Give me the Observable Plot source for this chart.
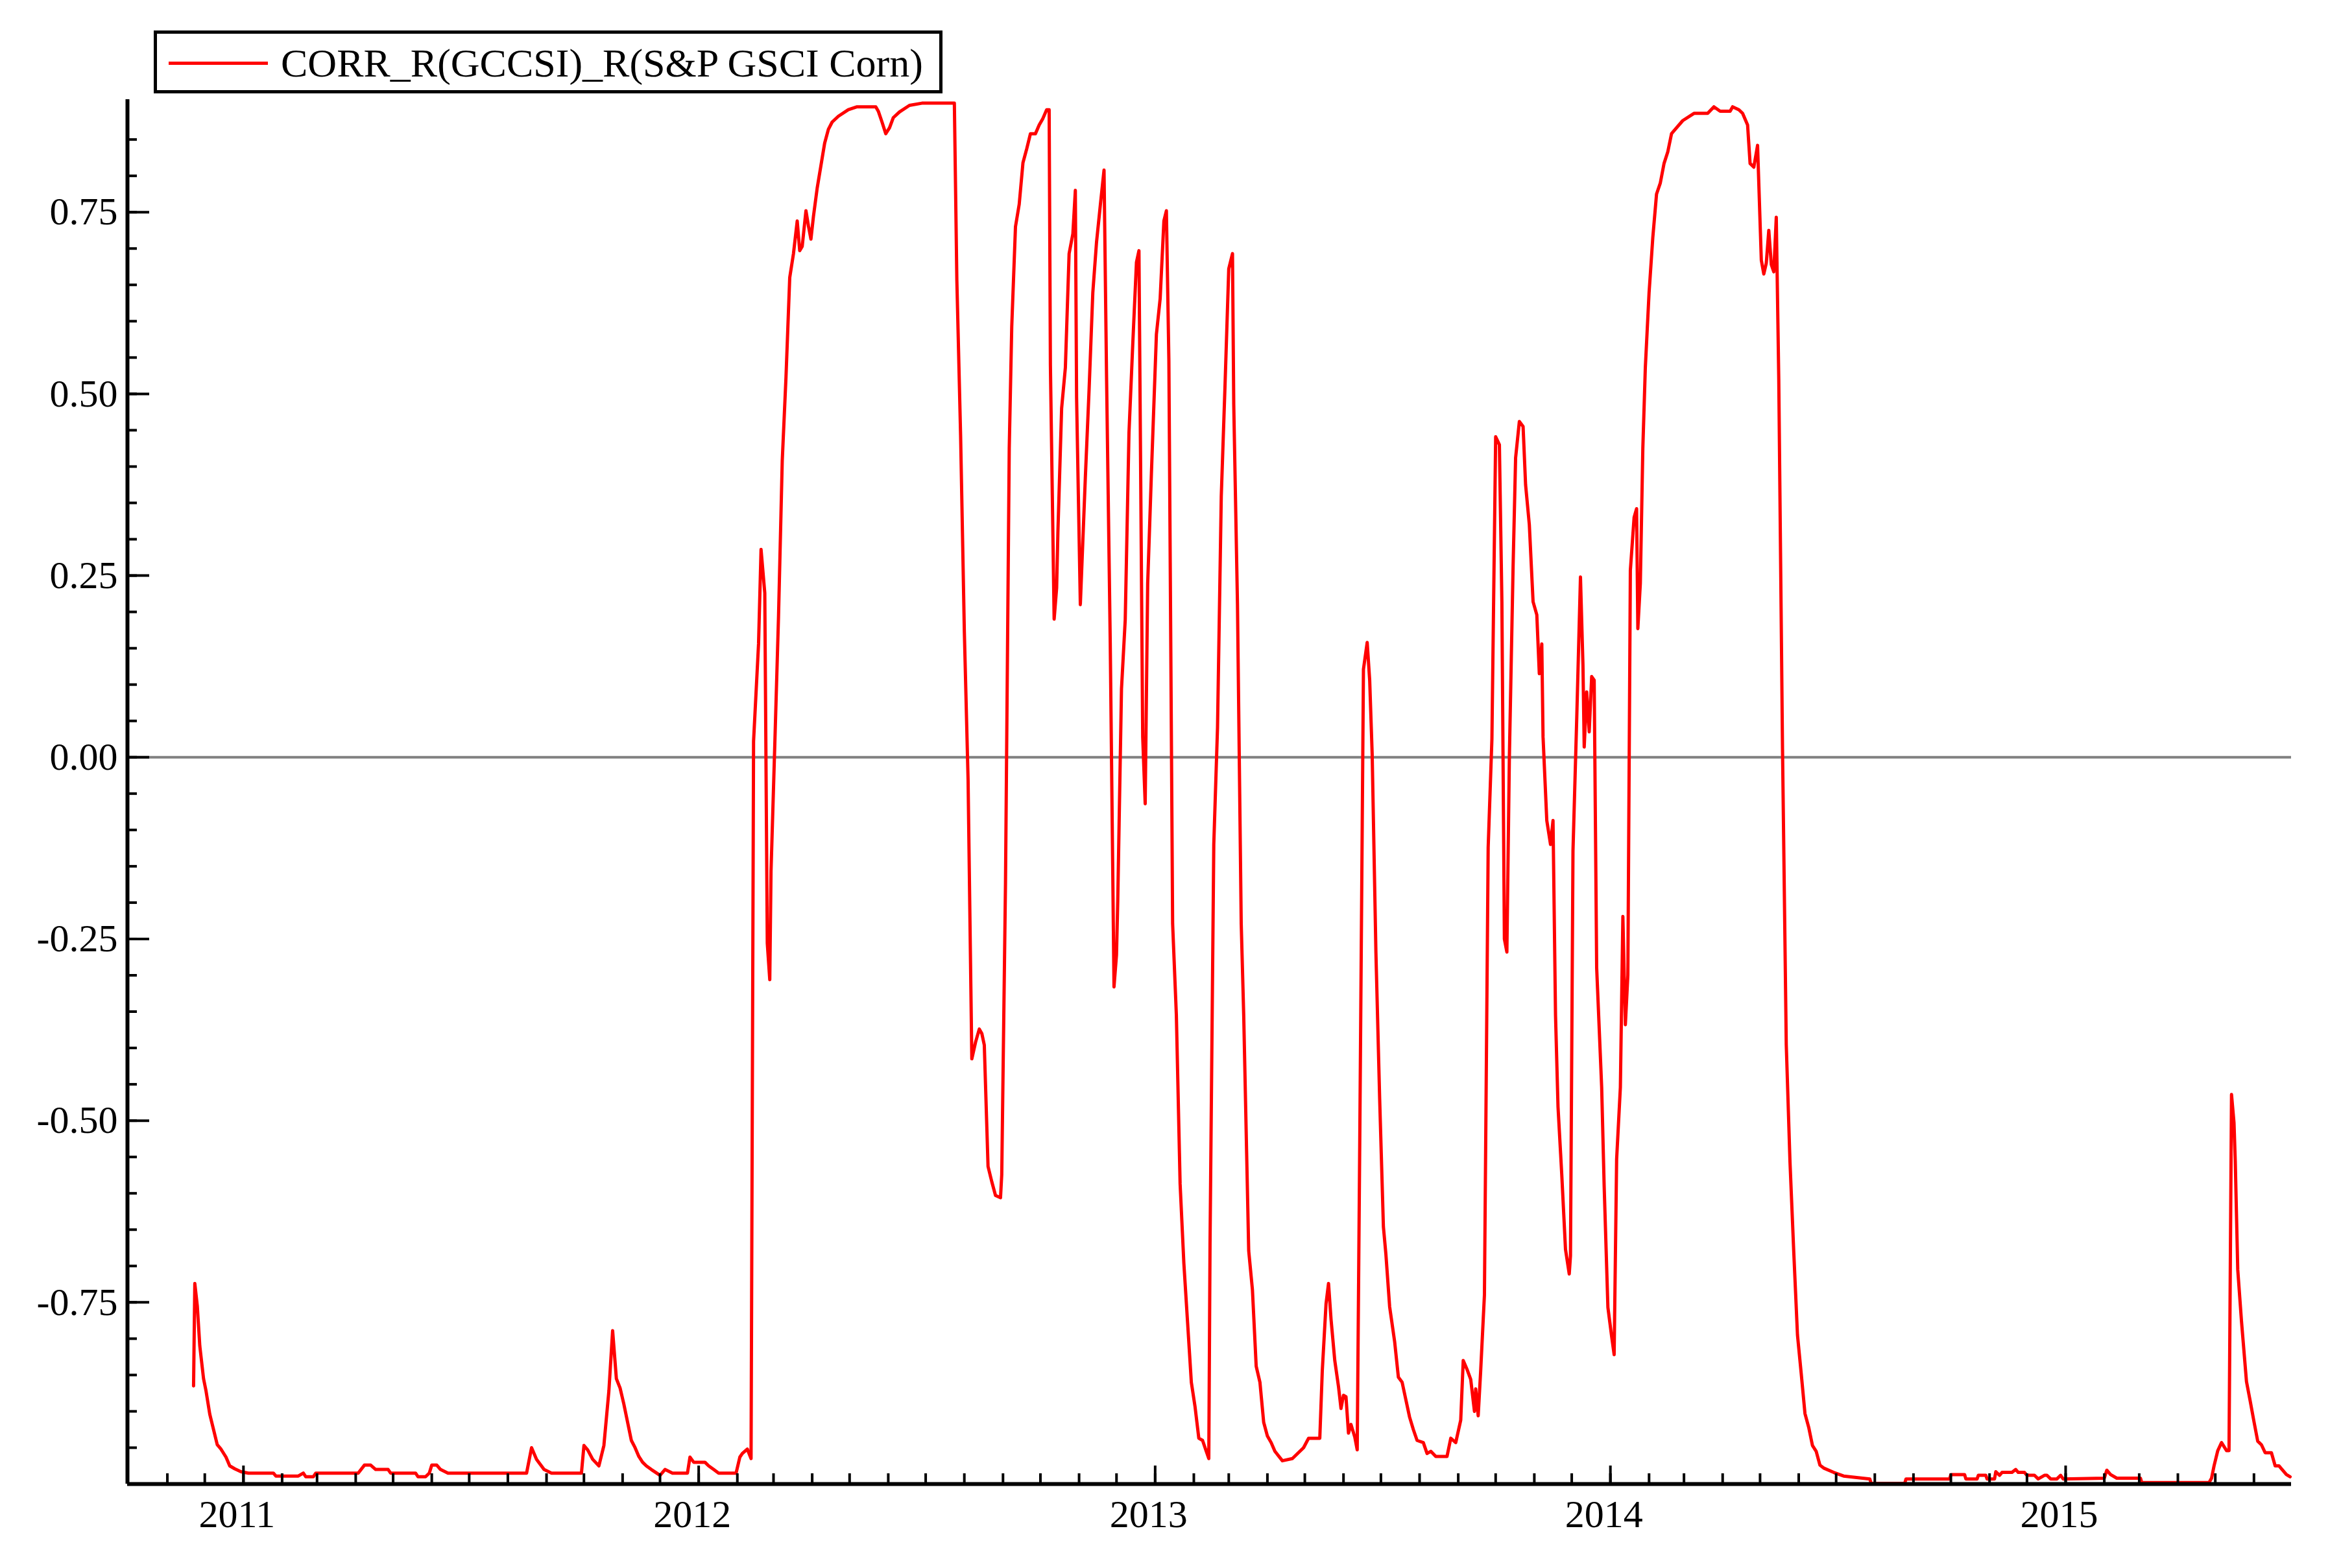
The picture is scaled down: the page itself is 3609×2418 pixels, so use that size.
<!DOCTYPE html>
<html><head><meta charset="utf-8">
<script src="https://cdn.jsdelivr.net/npm/d3@7"></script>
<script src="https://cdn.jsdelivr.net/npm/@observablehq/plot@0.6"></script>
<style>
html,body{margin:0;padding:0;background:#fff;}
#wrap{position:relative;width:3609px;height:2418px;overflow:hidden;background:#fff;}
#legend{position:absolute;left:237px;top:47px;width:1216px;height:97px;border:5px solid #000;box-sizing:border-box;display:flex;align-items:center;font-family:"Liberation Serif",serif;font-size:62px;color:#000;background:#fff;padding-top:3px;}
#legend .sw{display:inline-block;width:153px;height:5px;background:#ff0000;margin-left:18px;margin-right:20px;}
#chart{position:absolute;left:0;top:145px;}
</style></head><body>
<div id="wrap">
<div id="legend"><span class="sw"></span><span id="legendText"></span></div>
<div id="chart"></div>
</div>
<script>
const seriesName = "CORR_R(GCCSI)_R(S&P GSCI Corn)";
const yTickValues = [-0.75, -0.5, -0.25, 0, 0.25, 0.5, 0.75];
const yearLabels = ["2011", "2012", "2013", "2014", "2015"];
const xStart = "2010-09-30", xEnd = "2015-07-01";

const dates = [
"2010-11-22","2010-11-23","2010-11-25","2010-11-27","2010-11-30","2010-12-02","2010-12-05","2010-12-08","2010-12-11","2010-12-14",
"2010-12-18","2010-12-21","2010-12-25","2010-12-30","2011-01-05","2011-01-25","2011-01-27","2011-02-14","2011-02-18","2011-02-20",
"2011-02-26","2011-02-28","2011-04-03","2011-04-08","2011-04-13","2011-04-17","2011-04-27","2011-04-29","2011-05-19","2011-05-21",
"2011-05-27","2011-05-30","2011-06-01","2011-06-05","2011-06-08","2011-06-14","2011-08-16","2011-08-20","2011-08-24","2011-08-30",
"2011-09-05","2011-09-29","2011-10-01","2011-10-04","2011-10-08","2011-10-13","2011-10-17","2011-10-21","2011-10-24","2011-10-27",
"2011-10-30","2011-11-02","2011-11-05","2011-11-08","2011-11-11","2011-11-14","2011-11-17","2011-11-20","2011-11-24","2011-12-01",
"2011-12-05","2011-12-11","2011-12-23","2011-12-25","2011-12-28","2012-01-06","2012-01-09","2012-01-13","2012-01-17","2012-01-31",
"2012-02-03","2012-02-05","2012-02-09","2012-02-12","2012-02-14","2012-02-18","2012-02-20","2012-02-23","2012-02-25","2012-02-27",
"2012-02-28","2012-03-02","2012-03-05","2012-03-08","2012-03-11","2012-03-14","2012-03-17","2012-03-20","2012-03-22","2012-03-24",
"2012-03-27","2012-03-29","2012-03-31","2012-04-02","2012-04-05","2012-04-08","2012-04-11","2012-04-14","2012-04-17","2012-04-22",
"2012-04-30","2012-05-07","2012-05-22","2012-05-24","2012-05-27","2012-05-30","2012-06-02","2012-06-05","2012-06-10","2012-06-18",
"2012-06-28","2012-07-24","2012-07-26","2012-07-29","2012-08-01","2012-08-04","2012-08-07","2012-08-10","2012-08-13","2012-08-15",
"2012-08-17","2012-08-20","2012-08-23","2012-08-26","2012-08-30","2012-08-31","2012-09-03","2012-09-06","2012-09-08","2012-09-11",
"2012-09-14","2012-09-17","2012-09-20","2012-09-23","2012-09-27","2012-09-30","2012-10-03","2012-10-06","2012-10-08","2012-10-09",
"2012-10-12","2012-10-14","2012-10-15","2012-10-18","2012-10-21","2012-10-24","2012-10-27","2012-10-29","2012-10-30","2012-11-02",
"2012-11-06","2012-11-09","2012-11-12","2012-11-15","2012-11-18","2012-11-21","2012-11-23","2012-11-26","2012-11-29","2012-12-01",
"2012-12-02","2012-12-05","2012-12-08","2012-12-11","2012-12-14","2012-12-17","2012-12-19","2012-12-22","2012-12-24","2012-12-26",
"2012-12-29","2013-01-02","2013-01-05","2013-01-08","2013-01-10","2013-01-12","2013-01-15","2013-01-18","2013-01-21","2013-01-24",
"2013-01-27","2013-01-30","2013-02-02","2013-02-05","2013-02-08","2013-02-11","2013-02-13","2013-02-14","2013-02-17","2013-02-20",
"2013-02-23","2013-02-26","2013-03-01","2013-03-04","2013-03-05","2013-03-08","2013-03-11","2013-03-13","2013-03-17","2013-03-20",
"2013-03-23","2013-03-26","2013-03-29","2013-04-01","2013-04-04","2013-04-07","2013-04-13","2013-04-21","2013-04-30","2013-05-04",
"2013-05-13","2013-05-15","2013-05-18","2013-05-20","2013-05-22","2013-05-25","2013-05-28","2013-05-30","2013-06-01","2013-06-03",
"2013-06-05","2013-06-07","2013-06-10","2013-06-12","2013-06-14","2013-06-17","2013-06-20","2013-06-22","2013-06-24","2013-06-27",
"2013-06-30","2013-07-03","2013-07-05","2013-07-08","2013-07-12","2013-07-15","2013-07-18","2013-07-21","2013-07-24","2013-07-27",
"2013-07-30","2013-08-04","2013-08-07","2013-08-10","2013-08-14","2013-08-23","2013-08-26","2013-08-30","2013-09-03","2013-09-05",
"2013-09-08","2013-09-11","2013-09-14","2013-09-15","2013-09-17","2013-09-19","2013-09-22","2013-09-25","2013-09-28","2013-10-01",
"2013-10-04","2013-10-06","2013-10-08","2013-10-10","2013-10-12","2013-10-15","2013-10-17","2013-10-20","2013-10-23","2013-10-25",
"2013-10-28","2013-10-31","2013-11-03","2013-11-05","2013-11-07","2013-11-08","2013-11-11","2013-11-14","2013-11-16","2013-11-18",
"2013-11-20","2013-11-23","2013-11-26","2013-11-29","2013-11-30","2013-12-02","2013-12-05","2013-12-08","2013-12-10","2013-12-11",
"2013-12-13","2013-12-15","2013-12-17","2013-12-19","2013-12-21","2013-12-25","2013-12-27","2013-12-30","2014-01-02","2014-01-04",
"2014-01-06","2014-01-09","2014-01-11","2014-01-13","2014-01-15","2014-01-17","2014-01-20","2014-01-22","2014-01-23","2014-01-25",
"2014-01-27","2014-01-29","2014-02-01","2014-02-04","2014-02-07","2014-02-10","2014-02-13","2014-02-16","2014-02-19","2014-02-23",
"2014-02-28","2014-03-09","2014-03-20","2014-03-25","2014-03-30","2014-04-07","2014-04-09","2014-04-14","2014-04-17","2014-04-21",
"2014-04-23","2014-04-26","2014-04-29","2014-05-02","2014-05-04","2014-05-06","2014-05-08","2014-05-10","2014-05-12","2014-05-14",
"2014-05-16","2014-05-19","2014-05-22","2014-05-25","2014-05-28","2014-05-31","2014-06-03","2014-06-06","2014-06-09","2014-06-12",
"2014-06-15","2014-06-18","2014-06-21","2014-06-29","2014-07-07","2014-07-28","2014-07-29","2014-08-25","2014-08-26","2014-09-30",
"2014-10-01","2014-10-12","2014-10-13","2014-10-22","2014-10-23","2014-10-29","2014-10-30","2014-11-05","2014-11-06","2014-11-09",
"2014-11-11","2014-11-19","2014-11-22","2014-11-24","2014-11-29","2014-12-01","2014-12-07","2014-12-10","2014-12-15","2014-12-17",
"2014-12-20","2014-12-25","2014-12-28","2014-12-30","2015-02-01","2015-02-03","2015-02-06","2015-02-11","2015-03-02","2015-03-03",
"2015-04-26","2015-04-28","2015-04-30","2015-05-03","2015-05-06","2015-05-10","2015-05-12","2015-05-14","2015-05-16","2015-05-17",
"2015-05-19","2015-05-22","2015-05-26","2015-05-29","2015-06-01","2015-06-04","2015-06-07","2015-06-10","2015-06-15","2015-06-18",
"2015-06-21","2015-06-24","2015-06-27","2015-06-30"
];

const values = [
-0.865,-0.724,-0.755,-0.810,-0.855,-0.872,-0.904,-0.925,-0.946,-0.952,
-0.963,-0.975,-0.979,-0.983,-0.985,-0.985,-0.989,-0.989,-0.985,-0.990,
-0.990,-0.985,-0.985,-0.974,-0.974,-0.980,-0.980,-0.985,-0.985,-0.990,
-0.990,-0.985,-0.974,-0.974,-0.980,-0.985,-0.985,-0.950,-0.966,-0.980,
-0.985,-0.985,-0.947,-0.953,-0.966,-0.975,-0.947,-0.872,-0.789,-0.855,
-0.868,-0.890,-0.915,-0.940,-0.950,-0.962,-0.970,-0.975,-0.980,-0.988,
-0.980,-0.985,-0.985,-0.963,-0.970,-0.970,-0.975,-0.980,-0.985,-0.985,
-0.963,-0.958,-0.952,-0.965,0.022,0.156,0.286,0.226,-0.256,-0.306,
-0.157,0.016,0.193,0.408,0.523,0.660,0.693,0.738,0.697,0.703,
0.752,0.731,0.713,0.744,0.783,0.814,0.845,0.864,0.874,0.882,
0.891,0.895,0.895,0.889,0.874,0.858,0.866,0.880,0.888,0.897,
0.900,0.900,0.656,0.443,0.173,-0.031,-0.415,-0.392,-0.374,-0.380,
-0.396,-0.563,-0.584,-0.603,-0.606,-0.574,-0.173,0.425,0.592,0.730,
0.761,0.818,0.837,0.858,0.858,0.870,0.879,0.891,0.891,0.540,
0.190,0.233,0.309,0.480,0.536,0.693,0.720,0.780,0.495,0.210,
0.384,0.505,0.639,0.709,0.759,0.808,0.527,0.156,-0.316,-0.272,
-0.198,0.094,0.189,0.446,0.567,0.681,0.697,0.028,-0.064,0.239,
0.391,0.582,0.631,0.738,0.752,0.545,-0.229,-0.355,-0.587,-0.696,
-0.778,-0.860,-0.894,-0.937,-0.940,-0.955,-0.965,-0.668,-0.120,0.041,
0.359,0.511,0.672,0.693,0.486,0.210,-0.229,-0.355,-0.679,-0.733,
-0.838,-0.860,-0.915,-0.934,-0.943,-0.955,-0.968,-0.965,-0.950,-0.937,
-0.937,-0.844,-0.752,-0.724,-0.773,-0.830,-0.866,-0.896,-0.878,-0.880,
-0.930,-0.918,-0.935,-0.953,-0.537,0.121,0.158,0.106,0.004,-0.269,
-0.470,-0.646,-0.684,-0.756,-0.804,-0.853,-0.860,-0.884,-0.908,-0.925,
-0.940,-0.943,-0.958,-0.955,-0.962,-0.962,-0.937,-0.943,-0.912,-0.830,
-0.842,-0.856,-0.900,-0.869,-0.906,-0.844,-0.740,-0.124,0.025,0.441,
0.430,0.214,-0.250,-0.268,0.000,0.264,0.412,0.462,0.455,0.375,
0.320,0.214,0.196,0.115,0.156,0.028,-0.087,-0.120,-0.087,-0.355,
-0.481,-0.574,-0.677,-0.711,-0.686,-0.129,0.053,0.248,0.127,0.014,
0.090,0.035,0.111,0.106,-0.290,-0.454,-0.590,-0.757,-0.797,-0.822,
-0.553,-0.454,-0.219,-0.368,-0.300,0.257,0.330,0.342,0.177,0.239,
0.425,0.536,0.639,0.715,0.775,0.790,0.817,0.833,0.858,0.866,
0.876,0.886,0.886,0.895,0.889,0.889,0.895,0.891,0.886,0.870,
0.817,0.812,0.842,0.684,0.665,0.680,0.725,0.678,0.668,0.743,
0.520,0.012,-0.395,-0.557,-0.680,-0.795,-0.848,-0.903,-0.922,-0.947,
-0.955,-0.974,-0.978,-0.984,-0.989,-0.993,-0.999,-0.999,-0.993,-0.993,
-0.987,-0.987,-0.993,-0.993,-0.988,-0.988,-0.993,-0.993,-0.983,-0.988,
-0.984,-0.984,-0.980,-0.984,-0.984,-0.988,-0.988,-0.993,-0.988,-0.988,
-0.993,-0.993,-0.988,-0.993,-0.992,-0.981,-0.987,-0.992,-0.992,-0.998,
-0.998,-0.992,-0.975,-0.954,-0.943,-0.954,-0.954,-0.464,-0.503,-0.555,
-0.705,-0.776,-0.859,-0.886,-0.914,-0.941,-0.946,-0.957,-0.957,-0.975,
-0.975,-0.981,-0.987,-0.990
];

document.getElementById("legendText").textContent = seriesName;

const parse = d3.utcParse("%Y-%m-%d");
const data = dates.map((d, i) => ({date: parse(d), value: values[i]}));
const xDomain = [parse(xStart), parse(xEnd)];
const yearDates = yearLabels.map(y => parse(y + "-01-01"));
const monthDates = d3.utcMonth.range(parse("2010-11-01"), parse(xEnd));
const yMinor = d3.range(-95, 90, 5).map(v => v / 100);

const W = 3609, H = 2273;
const mL = 196, mR = 77, mT = 8, mB = 130;
const plotW = W - mL - mR, plotH = H - mT - mB;
const font = "'Liberation Serif', 'Times New Roman', serif";

const chart = Plot.plot({
  width: W, height: H,
  marginLeft: mL, marginRight: mR, marginTop: mT, marginBottom: mB,
  x: {type: "utc", domain: xDomain},
  y: {domain: [-1, 0.905]},
  style: {fontFamily: font, fontSize: "60px", color: "#000", background: "#fff"},
  marks: [
    Plot.ruleY([0], {stroke: "#808080", strokeWidth: 4}),
    Plot.lineY(data, {x: "date", y: "value", stroke: "#ff0000", strokeWidth: 5}),
    Plot.tickY(yMinor, {y: d => d, stroke: "#000", strokeWidth: 4, insetRight: plotW - 15}),
    Plot.tickY(yTickValues, {y: d => d, stroke: "#000", strokeWidth: 4, insetRight: plotW - 34}),
    Plot.tickX(monthDates, {x: d => d, stroke: "#000", strokeWidth: 4, insetTop: plotH - 16}),
    Plot.tickX(yearDates, {x: d => d, stroke: "#000", strokeWidth: 4, insetTop: plotH - 28}),
    Plot.ruleX([xDomain[0]], {stroke: "#000", strokeWidth: 6}),
    Plot.ruleY([-1], {stroke: "#000", strokeWidth: 6}),
    Plot.axisY(yTickValues, {tickSize: 0, tickPadding: 15, tickFormat: d => d.toFixed(2), fontSize: 60, label: null}),
    Plot.axisX(yearDates, {tickSize: 0, tickPadding: 24, tickFormat: d3.utcFormat("%Y"), fontSize: 60, dx: -10, label: null})
  ]
});
document.getElementById("chart").appendChild(chart);
</script>
</body></html>
